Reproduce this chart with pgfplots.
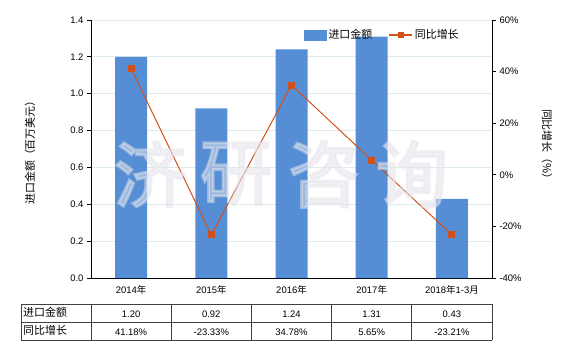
\documentclass[border=0pt]{standalone}
\usepackage{fontspec}
\setmainfont{Liberation Sans}
\newfontfamily\cjk{Noto Sans CJK SC}
\newfontfamily\cjkbold[FakeBold=4]{Noto Sans CJK SC}
\usepackage{pgfplots}
\pgfplotsset{compat=1.18}
\definecolor{barblue}{RGB}{85,142,213}
\definecolor{lineor}{RGB}{210,80,25}
\definecolor{gridc}{RGB}{222,235,235}
\definecolor{tabline}{RGB}{64,64,64}
\definecolor{wmark}{RGB}{228,228,236}
\newcommand{\numfont}{\fontsize{9.5}{11}\selectfont}
\newcommand{\cjkfont}{\fontsize{11}{12}\selectfont\cjk}
\begin{document}
\begin{tikzpicture}[x=1bp,y=1bp]
\path[use as bounding box] (0,0) rectangle (580,350);
\begin{axis}[
  at={(91bp,72bp)}, anchor=south west, scale only axis,
  width=401bp, height=258bp,
  xmin=-0.5, xmax=4.5, ymin=0, ymax=1.4,
  axis y line*=left, axis x line*=bottom,
  axis line style={black, line width=0.8bp, -},
  xtick={0,1,2,3,4},
  xticklabels={{2014{\cjk 年}},{2015{\cjk 年}},{2016{\cjk 年}},{2017{\cjk 年}},{2018{\cjk 年}1-3{\cjk 月}}},
  major x tick style={draw=none},
  ytick={0,0.2,0.4,0.6,0.8,1.0,1.2,1.4},
  yticklabel style={/pgf/number format/.cd, fixed, fixed zerofill, precision=1, assume math mode=true},
  tick label style={font=\numfont, text=black},
  tick align=outside, major tick length=4bp,
  major y tick style={black, line width=0.8bp},
  ymajorgrids, grid style={gridc, line width=0.8bp},
  ybar, bar width=32bp,
  every axis y label/.style={at={(axis description cs:-0.152,0.496)}, rotate=90, anchor=center},
  ylabel={\cjkfont 进口金额（百万美元）},
]
\addplot[fill=barblue, draw=none] coordinates {(0,1.20) (1,0.92) (2,1.24) (3,1.31) (4,0.43)};
\end{axis}
\begin{axis}[
  at={(91bp,72bp)}, anchor=south west, scale only axis,
  width=401bp, height=258bp,
  xmin=-0.5, xmax=4.5, ymin=-40, ymax=60,
  axis y line*=right, axis x line=none,
  axis line style={black, line width=0.8bp, -},
  ytick={-40,-20,0,20,40,60},
  yticklabel={\pgfmathprintnumber[assume math mode=true]{\tick}\%},
  tick label style={font=\numfont, text=black},
  tick align=outside, major tick length=4bp,
  major y tick style={black, line width=0.8bp},
  every axis y label/.style={at={(axis description cs:1.137,0.508)}, rotate=-90, anchor=center},
  ylabel={\cjkfont 同比增长（\%）},
  legend columns=2,
  legend style={draw=none, fill=none, at={(rel axis cs:0.531,0.972)}, anchor=north west,
    font=\cjkfont, inner sep=0pt, /tikz/every even column/.append style={column sep=14bp}},
]
\addlegendimage{legend image code/.code={\fill[barblue] (0bp,-5bp) rectangle (22bp,5bp);}}
\addlegendentry{进口金额}
\addplot[lineor, line width=1bp, mark=square*, mark size=3bp, mark options={fill=lineor, draw=lineor},
  legend image code/.code={\draw[lineor, line width=1.5bp] (0bp,0bp)--(23bp,0bp); \fill[lineor] (9bp,-2.5bp) rectangle (14bp,2.5bp);}]
  coordinates {(0,41.18) (1,-23.33) (2,34.78) (3,5.65) (4,-23.21)};
\addlegendentry{同比增长}
\end{axis}
% watermark
\begin{scope}[opacity=0.5]
\node[text=wmark, font=\fontsize{72}{72}\selectfont\cjkbold] at (150,176) {济};
\node[text=wmark, font=\fontsize{72}{72}\selectfont\cjkbold] at (236,176) {研};
\node[text=wmark, font=\fontsize{72}{72}\selectfont\cjkbold] at (324,176) {咨};
\node[text=wmark, font=\fontsize{72}{72}\selectfont\cjkbold] at (412,176) {询};
\end{scope}
% table
\begin{scope}[draw=tabline, line width=0.8bp]
\draw (21,46)--(492,46);
\draw (21,28)--(492,28);
\draw (21,10)--(492,10);
\foreach \x in {21,91,171.2,251.4,331.6,411.8,492} {\draw (\x,10)--(\x,46);}
\end{scope}
\node[anchor=west, font=\cjkfont, inner sep=0pt] at (23,37.5) {进口金额};
\node[anchor=west, font=\cjkfont, inner sep=0pt] at (23,19.5) {同比增长};
\foreach \x/\v in {131.1/1.20, 211.3/0.92, 291.5/1.24, 371.7/1.31, 451.9/0.43} {\node[font=\numfont] at (\x,36) {\v};}
\foreach \x/\v in {131.1/41.18\%, 211.3/-23.33\%, 291.5/34.78\%, 371.7/5.65\%, 451.9/-23.21\%} {\node[font=\numfont] at (\x,18) {\v};}
\end{tikzpicture}
\end{document}
